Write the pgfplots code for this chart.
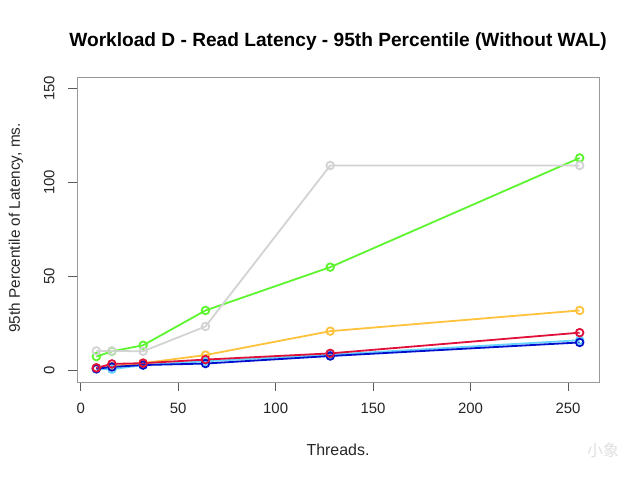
\documentclass[border=0pt]{standalone}
\usepackage{fontspec}
\setmainfont{Liberation Sans}
\newfontfamily\cjk{Noto Sans CJK SC}
\usepackage{pgfplots}
\pgfplotsset{compat=1.18}
\definecolor{cgray}{HTML}{D3D3D3}
\definecolor{cgreen}{HTML}{5CF530}
\definecolor{corange}{HTML}{FFC23C}
\definecolor{cred}{HTML}{E0103A}
\definecolor{cblue}{HTML}{0010CC}
\definecolor{ccyan}{HTML}{66D4FF}
\definecolor{boxgray}{HTML}{999999}
\begin{document}
\begin{tikzpicture}[x=1bp,y=1bp]
\path[fill=white] (0,0) rectangle (640,480);
\begin{axis}[at={(77bp,98bp)}, anchor=south west, scale only axis,
  width=522bp, height=305bp,
  xmin=-1.92, xmax=265.92, ymin=-6, ymax=156,
  xtick={0,50,100,150,200,250}, ytick={0,50,100,150},
  tick align=outside, major tick length=9bp,
  tick style={draw=black!65, line width=0.8bp},
  axis line style={draw=boxgray, line width=0.9bp},
  xtick pos=bottom, ytick pos=left,
  ticklabel style={font=\fontsize{15}{17}\selectfont, text=black!85},
  /pgf/number format/assume math mode=true,
  xticklabel style={yshift=-9bp},
  yticklabel style={rotate=90, anchor=south, yshift=10bp},
  every axis plot/.append style={line width=1.8bp, mark=o, mark size=3.8bp, mark options={line width=1.8bp, solid}},
  clip=false,
]
\addplot[cgreen] coordinates {(8,7.5) (16,10.3) (32,13.5) (64,32) (128,55) (256,113)};
\addplot[cgray] coordinates {(8,10.5) (16,10.5) (32,10.3) (64,23.5) (128,109) (256,109)};
\addplot[corange] coordinates {(8,1.5) (16,2.3) (32,4) (64,8.3) (128,21) (256,32)};
\addplot[ccyan] coordinates {(8,1) (16,0.8) (32,3) (64,5) (128,8.5) (256,16.2)};
\addplot[cblue] coordinates {(8,1) (16,2) (32,3) (64,3.8) (128,7.8) (256,15)};
\addplot[cred] coordinates {(8,1.5) (16,3.6) (32,4) (64,5.9) (128,9.2) (256,20.2)};
\end{axis}
\node[font=\bfseries\fontsize{19.2}{22}\selectfont] at (338,438) {Workload D - Read Latency - 95th Percentile (Without WAL)};
\node[font=\fontsize{16}{18}\selectfont, text=black!85] at (338,30) {Threads.};
\node[font=\fontsize{15.4}{18}\selectfont, text=black!85, rotate=90] at (16,252) {95th Percentile of Latency, ms.};
\node[font=\cjk\fontsize{16}{18}\selectfont, text=black!12] at (603,30) {小象};
\end{tikzpicture}
\end{document}
